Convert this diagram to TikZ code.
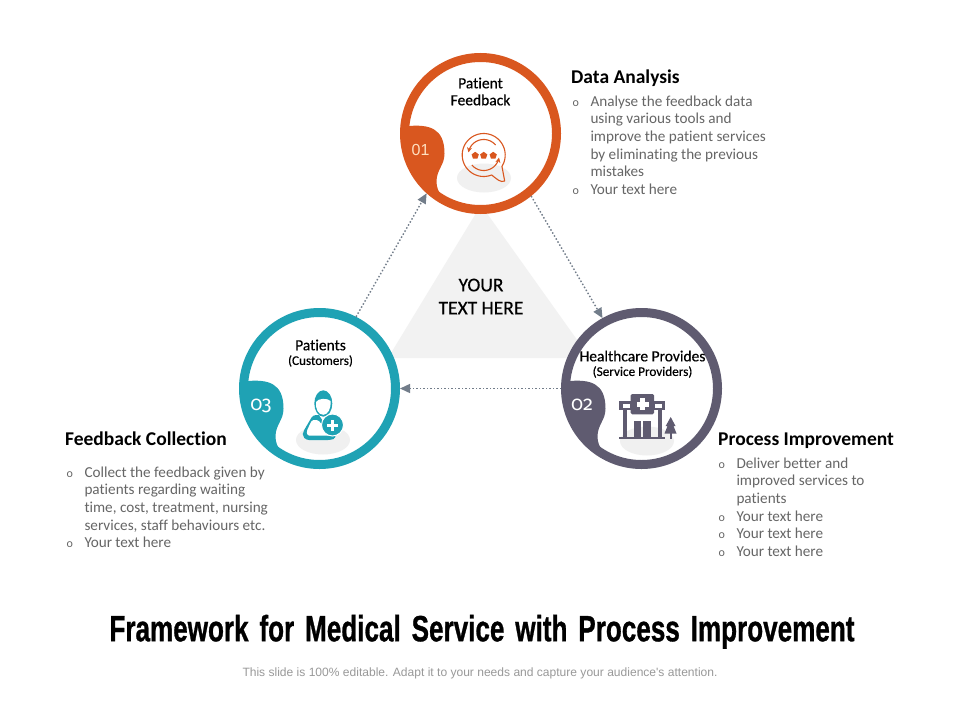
\documentclass[tikz,border=0pt]{standalone}
\usepackage{fontspec}
\usepackage{graphicx}
\usetikzlibrary{arrows.meta,shapes.geometric}
\setmainfont[Ligatures=NoCommon]{Carlito}
\newfontfamily\medf[FakeBold=0.4,Ligatures=NoCommon]{Carlito}
\newfontfamily\oldf[Numbers=OldStyle]{Fira Sans}
\newfontfamily\titlef[WordSpace=1.5,FakeBold=1]{Liberation Sans Bold}
\newfontfamily\footf{Liberation Sans}
\definecolor{orng}{HTML}{D9571F}
\definecolor{teal2}{HTML}{1FA2B4}
\definecolor{slate}{HTML}{5F5B70}
\definecolor{bodytx}{HTML}{666666}
\definecolor{arrowc}{HTML}{727D8A}
\definecolor{triang}{HTML}{F2F2F2}
\tikzset{
  ringnode/.style={circle,draw=#1,fill=white,line width=9pt,minimum size=152pt,inner sep=0pt},
  flow/.style={draw=arrowc,line width=1.4pt,dash pattern=on 1.5pt off 2pt,-{Triangle[length=10pt,width=9pt]}},
  label/.style={inner sep=0pt,align=center,font=\medf\fontsize{15.5}{17}\selectfont,text=black},
  sublabel/.style={inner sep=0pt,align=center,font=\medf\fontsize{13.2}{14}\selectfont,text=black},
  heading/.style={inner sep=0pt,anchor=base west,font=\bfseries\fontsize{19.5}{20}\selectfont,text=black},
  bodytext/.style={inner sep=0pt,anchor=north west,align=left,font=\fontsize{15.2}{17.6}\selectfont,text=bodytx},
  numtext/.style={inner sep=0pt,font=\oldf\fontsize{20}{22}\selectfont,text=white},
  shadowell/.style={fill=black!6,draw=none},
}
\newcommand{\myblob}[3]{%
  \begin{scope}[shift={(#1,#2)}]
    \clip (0,0) circle (77);
    \fill[#3] (-90,-7.5) -- (-72,-7.5) .. controls (-52,-9) and (-36,-6) .. (-36,20)
      .. controls (-36,32) and (-44,36) .. (-44,48)
      .. controls (-44,54) and (-42,59) .. (-38,63) -- (-38,90) -- (-90,90) -- cycle;
  \end{scope}}
\newcommand{\bu}{\makebox[17.8pt][l]{\fontsize{12}{12}\selectfont o}}
\newcommand{\hg}{\hspace*{17.8pt}}
\begin{document}
\begin{tikzpicture}[x=1pt,y=-1pt]
\useasboundingbox (0,0) rectangle (960,720);
\fill[white] (0,0) rectangle (960,720);
% centre triangle
\fill[triang] (481,205) -- (388,358) -- (590,358) -- cycle;
% rings
\node[ringnode=orng] (c1) at (480.5,133.5) {};
\node[ringnode=teal2] (c3) at (319.5,388.5) {};
\node[ringnode=slate] (c2) at (641.5,388.5) {};
\myblob{480.5}{133.5}{orng}
\myblob{319.5}{388.5}{teal2}
\myblob{641.5}{388.5}{slate}
% connectors
\draw[flow] (c3.63) -- (c1.228);
\draw[flow] (c1.309) -- (c2.119);
\draw[flow] (c2.180) -- (c3.0);
% shadows
\fill[shadowell] (484,178) ellipse (27 and 14.5);
\fill[shadowell] (323,440) ellipse (27 and 14.5);
\fill[shadowell] (647,441) ellipse (27 and 14.5);
% icon 1: speech bubble
\begin{scope}[shift={(483.7,155)},draw=orng,line width=1.1pt]
  \draw[line join=round] plot[domain=68:392,samples=60] ({21.5*cos(\x)},{21.5*sin(\x)})
     -- (21,26) .. controls (17,28) and (13,24) .. (8,20);
  \draw[-{Stealth[length=5pt,width=5pt]}] plot[domain=320:190,samples=30] ({15.5*cos(\x)},{15.5*sin(\x)});
  \draw[-{Stealth[length=5pt,width=5pt]}] plot[domain=140:10,samples=30] ({15.5*cos(\x)},{15.5*sin(\x)});
  \foreach \px in {-8.5,0,9.5}{
    \fill[orng] plot[domain=0:4,samples=5] ({\px+3.8*cos(270+72*\x)},{0.6+3.8*sin(270+72*\x)}) -- cycle;
  }
\end{scope}
% icon 3: patient
\fill[teal2,rounded corners=3pt] (303,432) -- (313,415) -- (334,415) -- (336,438) -- (331,440) -- (306,440) -- (302.7,436) -- cycle;
\fill[white,rounded corners=1.5pt] (312,420) -- (306.7,431) -- (307.3,435.5) -- (330,435.5) -- (331.7,431.5) -- (325,428) -- (318,420) -- cycle;
\fill[white] (317,412) -- (330,412) -- (323,421) -- cycle;
\fill[teal2] (323.3,403.5) ellipse (9 and 13.2);
\fill[white] (316,402) .. controls (318,398) and (328,398) .. (330.6,401) .. controls (331,409) and (328,414.5) .. (323.3,414.8) .. controls (318,414.5) and (315.5,409) .. (316,402) -- cycle;
\fill[teal2,draw=white,line width=1pt] (332.5,425) circle (11);
\fill[white] (331,419.5) rectangle (334,430.5);
\fill[white] (327,423.5) rectangle (338,426.5);
% icon 2: hospital
\fill[slate] (619.3,401) rectangle (665,410);
\fill[white] (622.5,403.5) rectangle (630,407.5);
\fill[white] (655,403.5) rectangle (662,407.5);
\fill[slate,rounded corners=1.5pt] (630.7,394) rectangle (654,414.3);
\fill[white] (640,398) rectangle (645,410);
\fill[white] (636.5,401.5) rectangle (648.5,406.5);
\fill[slate] (623.3,410) rectangle (626.7,437);
\fill[slate] (658.3,410) rectangle (661.7,437);
\fill[slate] (619.3,436.7) rectangle (665,439);
\fill[slate] (634,421) rectangle (641,437);
\fill[slate] (643.3,421) rectangle (650.7,437);
\fill[slate] (670.7,417) -- (675.5,426) -- (673.5,426) -- (676.5,433.5) -- (664.5,433.5) -- (667.5,426) -- (665.7,426) -- cycle;
\fill[slate] (669.5,433) rectangle (671.8,439);
% numbers
\node[numtext,text=orange!25!white] (n1) at (420.5,150) {\footf\fontsize{16}{18}\selectfont 01};
\node[numtext] (n3) at (261,406) {03};
\node[numtext] (n2) at (582,405) {02};
% labels in circles
\node[label] (l1) at (480.5,91.5) {Patient\\Feedback};
\node[label] (l3a) at (320.5,345) {Patients};
\node[sublabel] (l3b) at (320.5,361) {(Customers)};
\node[label] (l2a) at (642.5,356) {Healthcare Provides};
\node[sublabel] (l2b) at (642.5,372) {(Service Providers)};
% centre
\node[inner sep=0pt,align=center,font=\medf\fontsize{19.5}{23}\selectfont,text=black] (ctr) at (481,296.5) {YOUR\\TEXT HERE};
% text blocks
\node[heading] (h1) at (571,83.5) {Data Analysis};
\node[bodytext] (b1) at (572.5,95.5) {\bu Analyse the feedback data\\\hg using various tools and\\\hg improve the patient services\\\hg by eliminating the previous\\\hg mistakes\\\bu Your text here};
\node[heading] (h3) at (65,445.5) {Feedback Collection};
\node[bodytext] (b3) at (66.5,466.5) {\bu Collect the feedback given by\\\hg patients regarding waiting\\\hg time, cost, treatment, nursing\\\hg services, staff behaviours etc.\\\bu Your text here};
\node[heading] (h2) at (718,445.5) {Process Improvement};
\node[bodytext] (b2) at (718.5,457.5) {\bu Deliver better and\\\hg improved services to\\\hg patients\\\bu Your text here\\\bu Your text here\\\bu Your text here};
% title and footer
\node[inner sep=0pt,anchor=south] (title) at (482,649) {\resizebox*{745pt}{34pt}{\titlef Framework for Medical Service with Process Improvement}};
\node[inner sep=0pt,text=black!40,font=\footf\fontsize{12.05}{14}\selectfont] (foot) at (480,673) {This slide is 100\% editable. Adapt it to your needs and capture your audience's attention.};
\end{tikzpicture}
\end{document}
